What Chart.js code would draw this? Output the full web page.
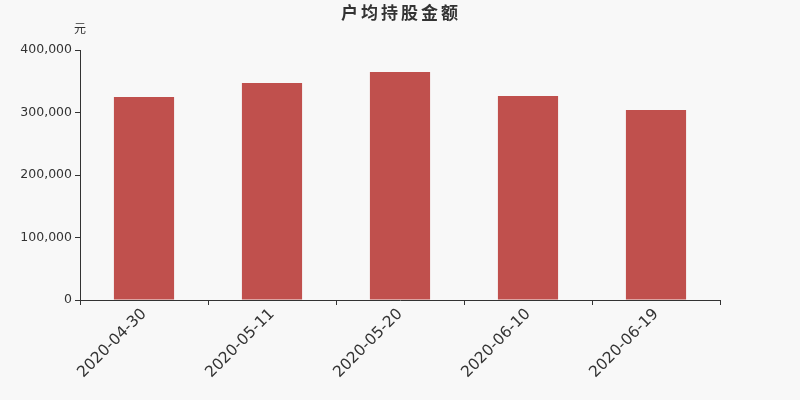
<!DOCTYPE html>
<html>
<head>
<meta charset="utf-8">
<script src="https://cdn.jsdelivr.net/npm/chart.js@4"></script>
<style>
  html, body { margin: 0; padding: 0; background: #f8f8f8; }
  #wrap { width: 800px; height: 400px; }
</style>
</head>
<body>
<div id="wrap"><canvas id="bar"></canvas></div>
<script>
// Dữ liệu biểu đồ
const categories = ['2020-04-30', '2020-05-11', '2020-05-20', '2020-06-10', '2020-06-19'];
const values = [324800, 347200, 364800, 326400, 304000];
const yTicks = [0, 100000, 200000, 300000, 400000];

const chartTitle = '户均持股金额';
const unitLabel = '元';
const CJK_FONT = '"Noto Sans CJK SC", sans-serif';
const FONT = '"DejaVu Sans", sans-serif';

// Vẽ tiêu đề và đơn vị
const titlePlugin = {
    id: 'titleText',
    afterDraw(chart) {
        const ctx = chart.ctx;
        ctx.save();
        ctx.fillStyle = '#333';
        ctx.textAlign = 'center';
        ctx.textBaseline = 'middle';
        ctx.font = 'bold 17px ' + CJK_FONT;
        ctx.letterSpacing = '3px';
        ctx.fillText(chartTitle, 401, 13);
        ctx.letterSpacing = '0px';
        ctx.font = '12px ' + CJK_FONT;
        ctx.fillText(unitLabel, chart.chartArea.left, 28);
        ctx.restore();
    }
};

const ctx = document.getElementById('bar').getContext('2d');
new Chart(ctx, {
    type: 'bar',
    data: {
        labels: categories,
        datasets: [{
            label: chartTitle,
            data: values,
            backgroundColor: '#c0504d',
            borderWidth: 0,
            barPercentage: 0.47,
            categoryPercentage: 1
        }]
    },
    options: {
        responsive: true,
        maintainAspectRatio: false,
        animation: false,
        layout: { padding: { top: 50, right: 80, left: 0, bottom: 0 } },
        plugins: {
            legend: { display: false },
            tooltip: { enabled: false }
        },
        scales: {
            x: {
                grid: { drawOnChartArea: false, color: '#333', tickLength: 5, offset: true },
                border: { color: '#333' },
                ticks: {
                    color: '#333',
                    font: { size: 15.5, family: FONT },
                    minRotation: 45,
                    maxRotation: 45,
                    padding: 0
                },
                afterFit(scale) { scale.height = 100; }
            },
            y: {
                min: 0,
                max: 400000,
                afterBuildTicks(scale) { scale.ticks = yTicks.map(v => ({ value: v })); },
                grid: { drawOnChartArea: false, color: '#333', tickLength: 5 },
                border: { color: '#333' },
                ticks: {
                    color: '#333',
                    font: { size: 12.5, family: FONT },
                    padding: 3,
                    callback: function(value) {
                        return Number(value).toLocaleString('en-US');
                    }
                },
                afterFit(scale) { scale.width = 80; }
            }
        }
    },
    plugins: [titlePlugin]
});
</script>
</body>
</html>
